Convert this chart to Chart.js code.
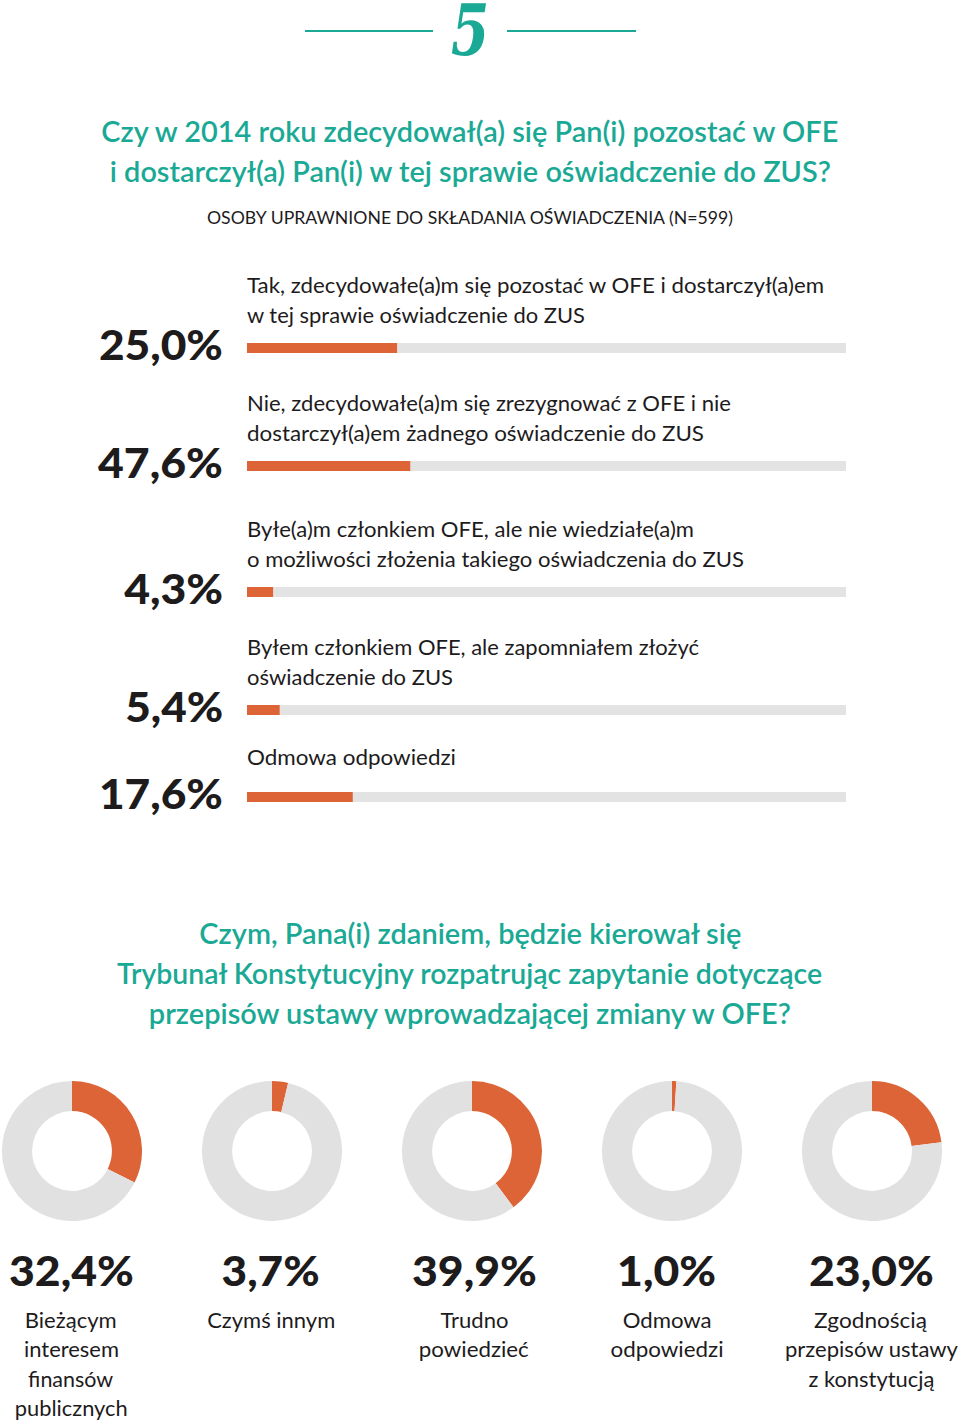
<!DOCTYPE html>
<html><head><meta charset="utf-8">
<script src="https://cdn.jsdelivr.net/npm/chart.js@4.4.1/dist/chart.umd.min.js"></script>
<style>
@font-face{font-family:'FiveSerif';src:local('DejaVu Serif Bold Italic'),local('DejaVuSerif-BoldItalic');font-weight:700;font-style:italic;ascent-override:75%;descent-override:10%;line-gap-override:0%;}
html,body{margin:0;padding:0;background:#fff;}
#page{position:relative;width:960px;height:1422px;overflow:hidden;background:#fff;}
.t{position:absolute;white-space:pre;}
.line{position:absolute;height:2px;}
canvas{position:absolute;}
</style></head>
<body><div id="page"></div>
<script>
// ---------------- DATA ----------------
const headerNumber = '5';
const title1Lines = ['Czy w 2014 roku zdecydował(a) się Pan(i) pozostać w OFE', 'i dostarczył(a) Pan(i) w tej sprawie oświadczenie do ZUS?'];
const subtitle = 'OSOBY UPRAWNIONE DO SKŁADANIA OŚWIADCZENIA (N=599)';
const barCategories = [
  ['Tak, zdecydowałe(a)m się pozostać w OFE i dostarczył(a)em', 'w tej sprawie oświadczenie do ZUS'],
  ['Nie, zdecydowałe(a)m się zrezygnować z OFE i nie', 'dostarczył(a)em żadnego oświadczenie do ZUS'],
  ['Byłe(a)m członkiem OFE, ale nie wiedziałe(a)m', 'o możliwości złożenia takiego oświadczenia do ZUS'],
  ['Byłem członkiem OFE, ale zapomniałem złożyć', 'oświadczenie do ZUS'],
  ['Odmowa odpowiedzi']
];
const barValueLabels = ['25,0%', '47,6%', '4,3%', '5,4%', '17,6%'];
// bar lengths as drawn in the picture (second bar is drawn at ~27%)
const barValues = [25.0, 27.2, 4.3, 5.4, 17.6];
const barTrack = [100, 100, 100, 100, 100];

const title2Lines = ['Czym, Pana(i) zdaniem, będzie kierował się', 'Trybunał Konstytucyjny rozpatrując zapytanie dotyczące', 'przepisów ustawy wprowadzającej zmiany w OFE?'];
const donutCategories = [
  ['Bieżącym', 'interesem', 'finansów', 'publicznych'],
  ['Czymś innym'],
  ['Trudno', 'powiedzieć'],
  ['Odmowa', 'odpowiedzi'],
  ['Zgodnością', 'przepisów ustawy', 'z konstytucją']
];
const donutValues = [32.4, 3.7, 39.9, 1.0, 23.0];
const donutRest = [67.6, 96.3, 60.1, 99.0, 77.0];
const donutValueLabels = ['32,4%', '3,7%', '39,9%', '1,0%', '23,0%'];

// ---------------- STYLE / LAYOUT ----------------
const TEAL = '#1aa995', ORANGE = '#dc6437', GREY = '#e3e3e3', DGREY = '#e1e1e2', INK = '#1d1b1c';
const BODY = '"Lato","Open Sans",sans-serif';
const page = document.getElementById('page');

function txt(str, o) {
  const d = document.createElement('div');
  d.className = 't';
  d.textContent = str;
  const s = o.size;
  d.style.font = `${o.style || 'normal'} ${o.weight || 400} ${s}px ${o.family || BODY}`;
  d.style.lineHeight = s + 'px';
  d.style.color = o.color || INK;
  if (o.ls) d.style.letterSpacing = o.ls + 'px';
  page.appendChild(d);
  const nat = d.getBoundingClientRect().width;
  const sc = o.w ? o.w / nat : 1;
  let left, origin;
  if (o.align === 'right') { left = o.x - nat; origin = 'right'; }
  else if (o.align === 'left') { left = o.x; origin = 'left'; }
  else { left = o.x - nat / 2; origin = 'center'; }
  d.style.left = left + 'px';
  if (o.lh) d.style.lineHeight = o.lh + 'px';
  d.style.top = (o.top !== undefined ? o.top : (o.y - (o.vf || 0.53) * s)) + 'px';
  d.style.transformOrigin = origin + ' center';
  d.style.transform = `scaleX(${sc})`;
  return d;
}
function hline(x1, x2, y) {
  const l = document.createElement('div');
  l.className = 'line';
  l.style.left = x1 + 'px'; l.style.width = (x2 - x1) + 'px';
  l.style.top = (y - 1) + 'px'; l.style.background = TEAL;
  page.appendChild(l);
}

function build() {
  // header
  hline(305, 433, 31);
  hline(507, 636, 31);
  txt(headerNumber, {x: 469, top: 2, lh: 60, size: 71, weight: 700, style: 'italic', family: '"FiveSerif","DejaVu Serif",serif', color: TEAL, w: 38});

  // title 1
  const t1W = [737, 721], t1Y = [131, 171];
  title1Lines.forEach((s, i) => txt(s, {x: 470, y: t1Y[i], size: 29, weight: 600, color: TEAL, w: t1W[i]}));
  txt(subtitle, {x: 470, y: 218, size: 18, weight: 400, w: 526});

  // bar rows
  const BAR_LEFT = 247, BAR_W = 599, BAR_H = 10;
  const barY = [348, 466, 592, 710, 797];
  const labW = [[577, 338], [484, 457], [447, 497], [452, 206], [209]];
  const pctW = [124, 125, 99, 98, 124];

  barCategories.forEach((lines, i) => {
    const by = barY[i];
    const ys = lines.length === 2 ? [by - 62.5, by - 32.5] : [by - 40];
    lines.forEach((s, j) => txt(s, {x: BAR_LEFT, y: ys[j], size: 21, weight: 400, align: 'left', w: labW[i][j]}));
    txt(barValueLabels[i], {x: 223, y: by - 2, size: 41, weight: 900, align: 'right', w: pctW[i]});

    const c = document.createElement('canvas');
    c.width = BAR_W; c.height = BAR_H;
    c.style.left = BAR_LEFT + 'px'; c.style.top = (by - BAR_H / 2) + 'px';
    page.appendChild(c);
    new Chart(c, {
      type: 'bar',
      data: {
        labels: [lines.join(' ')],
        datasets: [
          {data: [barValues[i]], backgroundColor: ORANGE, grouped: false, barPercentage: 1, categoryPercentage: 1, borderWidth: 0},
          {data: [barTrack[i]], backgroundColor: GREY, grouped: false, barPercentage: 1, categoryPercentage: 1, borderWidth: 0}
        ]
      },
      options: {
        indexAxis: 'y', responsive: false, animation: false, events: [],
        layout: {padding: 0},
        scales: {x: {min: 0, max: 100, display: false}, y: {display: false}},
        plugins: {legend: {display: false}, tooltip: {enabled: false}}
      }
    });
  });

  // title 2
  const t2W = [542, 705, 642], t2Y = [933, 973, 1013];
  title2Lines.forEach((s, i) => txt(s, {x: 470, y: t2Y[i], size: 29, weight: 600, color: TEAL, w: t2W[i]}));

  // doughnuts
  const DONUT_R = 70, DONUT_CY = 1151;
  const donutCX = [72, 272, 472, 672, 872];
  const textCX = [71, 271, 474, 667, 871];
  const dPctW = [125, 98, 125, 99, 125];
  const dLabW = [[92, 95, 85, 113], [128], [68, 110], [89, 113], [113, 173, 126]];
  donutValues.forEach((v, i) => {
    const c = document.createElement('canvas');
    c.width = DONUT_R * 2; c.height = DONUT_R * 2;
    c.style.left = (donutCX[i] - DONUT_R) + 'px'; c.style.top = (DONUT_CY - DONUT_R) + 'px';
    page.appendChild(c);
    new Chart(c, {
      type: 'doughnut',
      data: {labels: ['share', 'rest'], datasets: [{data: [v, donutRest[i]], backgroundColor: [ORANGE, DGREY], borderWidth: 0}]},
      options: {
        responsive: false, animation: false, events: [], cutout: '57%',
        layout: {padding: 0},
        plugins: {legend: {display: false}, tooltip: {enabled: false}}
      }
    });
    txt(donutValueLabels[i], {x: textCX[i], y: 1272, size: 41, weight: 900, w: dPctW[i]});
    donutCategories[i].forEach((s, j) => txt(s, {x: textCX[i], y: 1320 + j * 29.5, size: 21, weight: 400, w: dLabW[i][j]}));
  });
}

if (document.fonts && document.fonts.load) {
  document.fonts.load('italic 700 71px "FiveSerif"').then(build, build);
} else {
  build();
}
</script>
</body></html>
